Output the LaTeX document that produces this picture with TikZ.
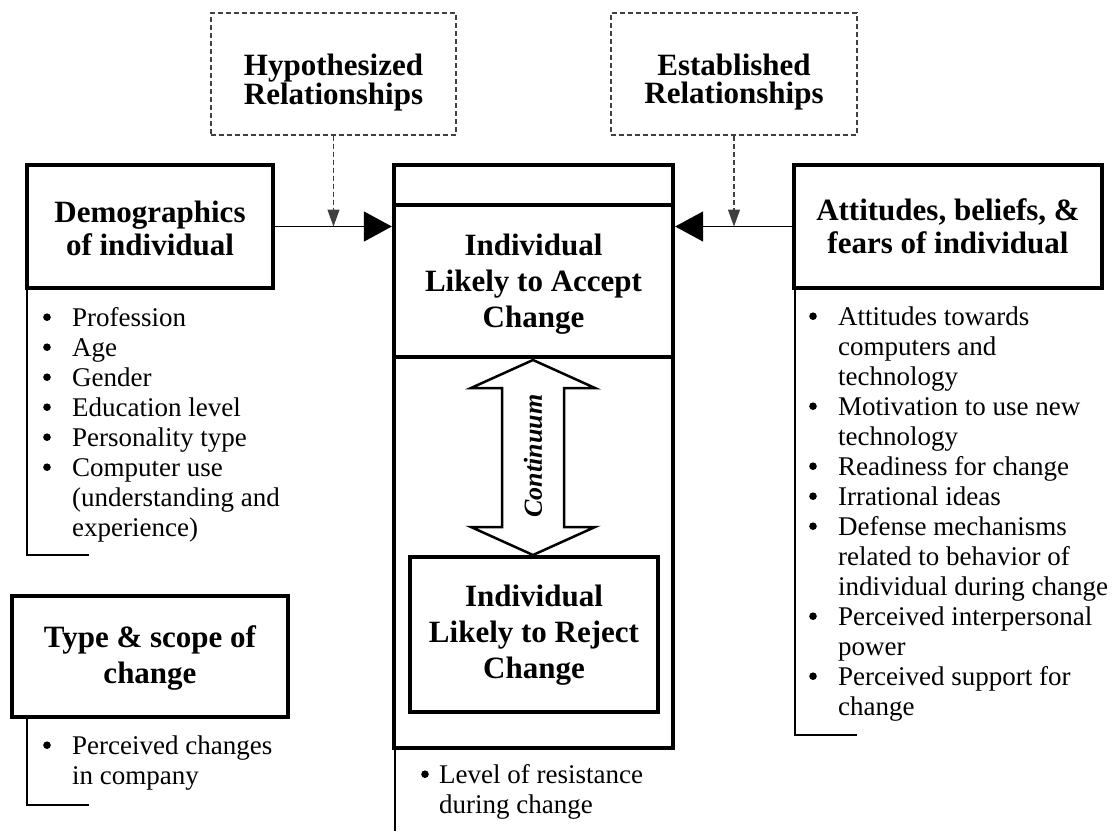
\documentclass[tikz,border=0pt]{standalone}
\usepackage{fontspec}
\setmainfont{Liberation Serif}
\usetikzlibrary{arrows.meta}
\newcommand{\tstrut}{\rule{0pt}{24pt}}
\newcommand{\lstrut}{\rule{0pt}{22pt}}
\newcommand{\bdot}{\tikz[baseline=-9pt]\fill[black] (0pt,0pt) circle[radius=3.8pt];}
\newcommand{\bl}{\makebox[29pt][l]{\bdot}}
\newcommand{\cl}{\hspace*{29pt}}
\newcommand{\bls}{\makebox[18pt][l]{\bdot}}
\newcommand{\cls}{\hspace*{18pt}}
\begin{document}
\begin{tikzpicture}[x=1pt,y=-1pt,
  thickbox/.style={draw, line width=4.3pt, inner sep=0pt},
  dashbox/.style={draw=black!75, line width=1.2pt, dash pattern=on 5pt off 3pt, inner sep=0pt},
  ttl/.style={font=\fontsize{31}{#1}\selectfont\bfseries, align=center, anchor=north, inner sep=0pt},
  blist/.style={font=\fontsize{27}{30}\selectfont, align=left, anchor=north west, inner sep=0pt},
  thinline/.style={line width=1.3pt},
  conn/.style={line width=1.3pt, -{Triangle[length=28pt,width=30pt]}},
  dconn/.style={line width=1.2pt, draw=black!75, dash pattern=on 5pt off 3pt, -{Triangle[length=17pt,width=12pt]}}]
\useasboundingbox (0,0) rectangle (1117,831);
% boxes
\node[dashbox, minimum width=245pt, minimum height=122pt] (hyp) at (333.5,74) {};
\node[dashbox, minimum width=246pt, minimum height=122pt] (est) at (734,74) {};
\node[thickbox, minimum width=246pt, minimum height=123pt] (demo) at (150,226.5) {};
\node[thickbox, minimum width=308pt, minimum height=123pt] (att) at (948,226.5) {};
\node[thickbox, minimum width=279pt, minimum height=583pt] (outer) at (533.5,456.5) {};
\node[thickbox, minimum width=279pt, minimum height=152pt] (accept) at (533.5,281) {};
\node[thickbox, minimum width=248pt, minimum height=155pt] (reject) at (534,634.5) {};
\node[thickbox, minimum width=276pt, minimum height=121pt] (type) at (150,656.5) {};
% titles
\node[ttl=28] (hyptxt) at (333.5,51) {\tstrut Hypothesized\\Relationships};
\node[ttl=28] (esttxt) at (734,51) {\tstrut Established\\Relationships};
\node[ttl=33] (demotxt) at (150,198) {\tstrut Demographics\\of individual};
\node[ttl=33] (atttxt) at (948,196) {\tstrut Attitudes, beliefs, \&\\fears of individual};
\node[ttl=36] (acctxt) at (533.5,231) {\tstrut Individual\\Likely to Accept\\Change};
\node[ttl=36] (rejtxt) at (534,582) {\tstrut Individual\\Likely to Reject\\Change};
\node[ttl=36] (typetxt) at (150,623) {\tstrut Type \& scope of\\change};
% continuum arrow
\draw[line width=2.5pt, line join=miter] (533,360) -- (595,388) -- (564,388) -- (564,527) -- (595,527) -- (533,555) -- (471,527) -- (502,527) -- (502,388) -- (471,388) -- cycle;
\node[rotate=90, font=\fontsize{26}{26}\selectfont\bfseries\itshape, inner sep=0pt] (cont) at (533,456) {Continuum};
% connectors
\coordinate (j1) at (hyp.south |- demo.east);
\coordinate (j2) at (est.south |- att.east);
\draw[conn] (demo.east) -- (demo.east -| outer.west);
\draw[conn] (att.west) -- (att.west -| outer.east);
\draw[dconn] (hyp.south) -- (j1);
\draw[dconn] (est.south) -- (j2);
% brackets
\draw[thinline] (27,288) -- (27,555) -- (89,555);
\draw[thinline] (27,717) -- (27,805) -- (89,805);
\draw[thinline] (395,748) -- (395,831);
\draw[thinline] (795,288) -- (795,735) -- (857,735);
% lists
\node[blist] (demolist) at (43,304) {\lstrut\bl Profession\\\bl Age\\\bl Gender\\\bl Education level\\\bl Personality type\\\bl Computer use\\\cl (understanding and\\\cl experience)};
\node[blist] (attlist) at (809,303) {\lstrut\bl Attitudes towards\\\cl computers and\\\cl technology\\\bl Motivation to use new\\\cl technology\\\bl Readiness for change\\\bl Irrational ideas\\\bl Defense mechanisms\\\cl related to behavior of\\\cl individual during change\\\bl Perceived interpersonal\\\cl power\\\bl Perceived support for\\\cl change};
\node[blist] (typelist) at (43,732) {\lstrut\bl Perceived changes\\\cl in company};
\node[blist] (ctrlist) at (421,761) {\lstrut\bls Level of resistance\\\cls during change};
\end{tikzpicture}
\end{document}
